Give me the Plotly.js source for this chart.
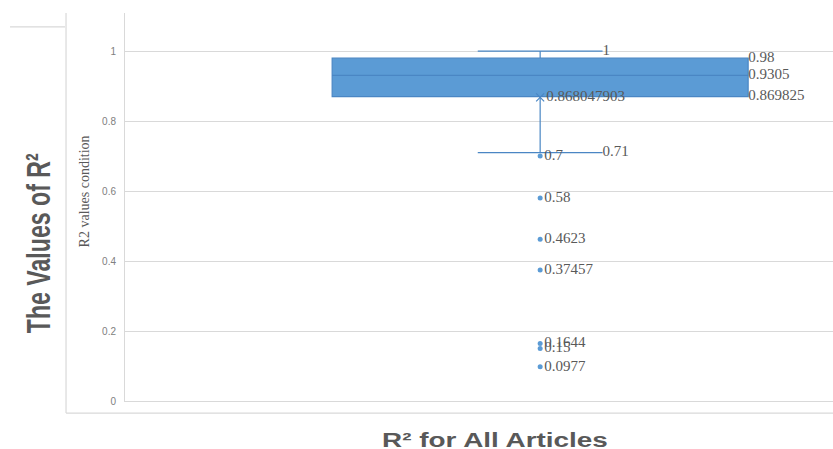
<!DOCTYPE html>
<html>
<head>
<meta charset="utf-8">
<script src="https://cdn.plot.ly/plotly-3.0.1.min.js"></script>
<style>html,body{margin:0;padding:0;background:#fff;}#chart{width:833px;height:449px;}</style>
</head>
<body>
<div id="chart"></div>
<script>
// ---- data ----
const boxPos = [0];
const q1 = [0.869825];
const median = [0.9305];
const q3 = [0.98];
const lowerWhisker = [0.71];
const upperWhisker = [1];
const meanValue = [0.868047903];
const meanLabel = ['0.868047903'];
const outliers = [0.7, 0.58, 0.4623, 0.37457, 0.1644, 0.15, 0.0977];
const outlierLabels = ['0.7', '0.58', '0.4623', '0.37457', '0.1644', '0.15', '0.0977'];
const boxStatValues = [0.98, 0.9305, 0.869825];
const boxStatLabels = ['0.98', '0.9305', '0.869825'];
const whiskerValues = [1, 0.71];
const whiskerLabels = ['1', '0.71'];
const yTicks = [0, 0.2, 0.4, 0.6, 0.8, 1];
const yTickText = ['0', '0.2', '0.4', '0.6', '0.8', '1'];

const boxWidth = 1;
const whiskerFrac = 0.3;
const blue = '#5B9BD5';
const lineBlue = '#4A86C4';
const labelFont = {family: 'Liberation Serif, Times New Roman, serif', size: 15, color: '#595959'};

const traces = [
  {
    type: 'box', x: boxPos, q1: q1, median: median, q3: q3,
    lowerfence: lowerWhisker, upperfence: upperWhisker,
    width: boxWidth, whiskerwidth: whiskerFrac, boxpoints: false,
    fillcolor: blue, line: {color: lineBlue, width: 1.2},
    hoverinfo: 'skip', showlegend: false
  },
  {
    type: 'scatter', mode: 'markers+text',
    x: outliers.map(() => boxPos[0]), y: outliers, text: outlierLabels,
    textposition: 'middle right', textfont: labelFont,
    marker: {color: blue, size: 5}, cliponaxis: false, showlegend: false, hoverinfo: 'skip'
  },
  {
    type: 'scatter', mode: 'markers+text',
    x: boxPos, y: meanValue, text: meanLabel,
    textposition: 'middle right', textfont: labelFont,
    marker: {symbol: 'x-thin', size: 8, line: {color: lineBlue, width: 1.2}},
    cliponaxis: false, showlegend: false, hoverinfo: 'skip'
  },
  {
    type: 'scatter', mode: 'text',
    x: boxStatValues.map(() => boxPos[0] + boxWidth / 2), y: boxStatValues, text: boxStatLabels,
    textposition: 'middle right', textfont: labelFont,
    cliponaxis: false, showlegend: false, hoverinfo: 'skip'
  },
  {
    type: 'scatter', mode: 'text',
    x: whiskerValues.map(() => boxPos[0] + boxWidth * whiskerFrac / 2), y: whiskerValues, text: whiskerLabels,
    textposition: 'middle right', textfont: labelFont,
    cliponaxis: false, showlegend: false, hoverinfo: 'skip'
  }
];

const frame = '#d9d9d9';
const layout = {
  width: 833, height: 449,
  margin: {l: 125, r: 0, t: 13, b: 48},
  paper_bgcolor: '#ffffff', plot_bgcolor: '#ffffff',
  showlegend: false, hovermode: false,
  xaxis: {range: [-0.998, 0.704], showgrid: false, zeroline: false, showticklabels: false,
          showline: true, linecolor: frame, linewidth: 1, ticks: '', fixedrange: true},
  yaxis: {
    range: [0, 1.109], tickvals: yTicks, ticktext: yTickText,
    showgrid: true, gridcolor: frame, gridwidth: 1, zeroline: false,
    showline: true, linecolor: frame, linewidth: 1,
    ticks: '', ticklabelstandoff: 6,
    tickfont: {family: 'Liberation Sans, Arial, sans-serif', size: 10, color: '#808080'},
    fixedrange: true
  },
  shapes: [
    {type: 'line', xref: 'paper', yref: 'paper', x0: -0.0833, x1: -0.0833, y0: 1.0, y1: -0.031, line: {color: frame, width: 1.2}},
    {type: 'line', xref: 'paper', yref: 'paper', x0: -0.0833, x1: 1.0, y0: -0.031, y1: -0.031, line: {color: frame, width: 1.2}},
    {type: 'line', xref: 'paper', yref: 'paper', x0: -0.1624, x1: -0.0847, y0: 0.964, y1: 0.964, line: {color: frame, width: 1.2}}
  ],
  annotations: [
    {xref: 'paper', yref: 'paper', x: -0.0575, y: 0.541, text: 'R2 values condition', textangle: -90,
     showarrow: false, xanchor: 'center', yanchor: 'middle',
     font: {family: 'Liberation Serif, Times New Roman, serif', size: 14, color: '#595959'}},
    {xref: 'paper', yref: 'paper', x: -0.1229, y: 0.4085, text: 'The Values of R²', textangle: -90,
     showarrow: false, xanchor: 'center', yanchor: 'middle',
     font: {family: 'Liberation Sans, Arial, sans-serif', size: 34, color: '#595959', weight: 'bold'}},
    {xref: 'paper', yref: 'paper', x: 0.5226, y: -0.1005, text: 'R² for All Articles',
     showarrow: false, xanchor: 'center', yanchor: 'middle',
     font: {family: 'Liberation Sans, Arial, sans-serif', size: 21, color: '#595959', weight: 'bold'}}
  ]
};

// the reference picture is stretched horizontally; scale the two big titles along their text direction
const titleStretch = [null, 0.68, 1.33];

Plotly.newPlot('chart', traces, layout, {displayModeBar: false, staticPlot: true}).then(function () {
  const anns = document.querySelectorAll('#chart .annotation');
  anns.forEach(function (g, i) {
    const s = titleStretch[i];
    if (!s) return;
    const t = g.querySelector('text.annotation-text') || g.querySelector('text');
    if (!t) return;
    const bb = t.getBBox();
    const cx = bb.x + bb.width / 2, cy = bb.y + bb.height / 2;
    t.setAttribute('transform', 'translate(' + cx + ',' + cy + ') scale(' + s + ',1) translate(' + (-cx) + ',' + (-cy) + ')');
  });
});
</script>
</body>
</html>
